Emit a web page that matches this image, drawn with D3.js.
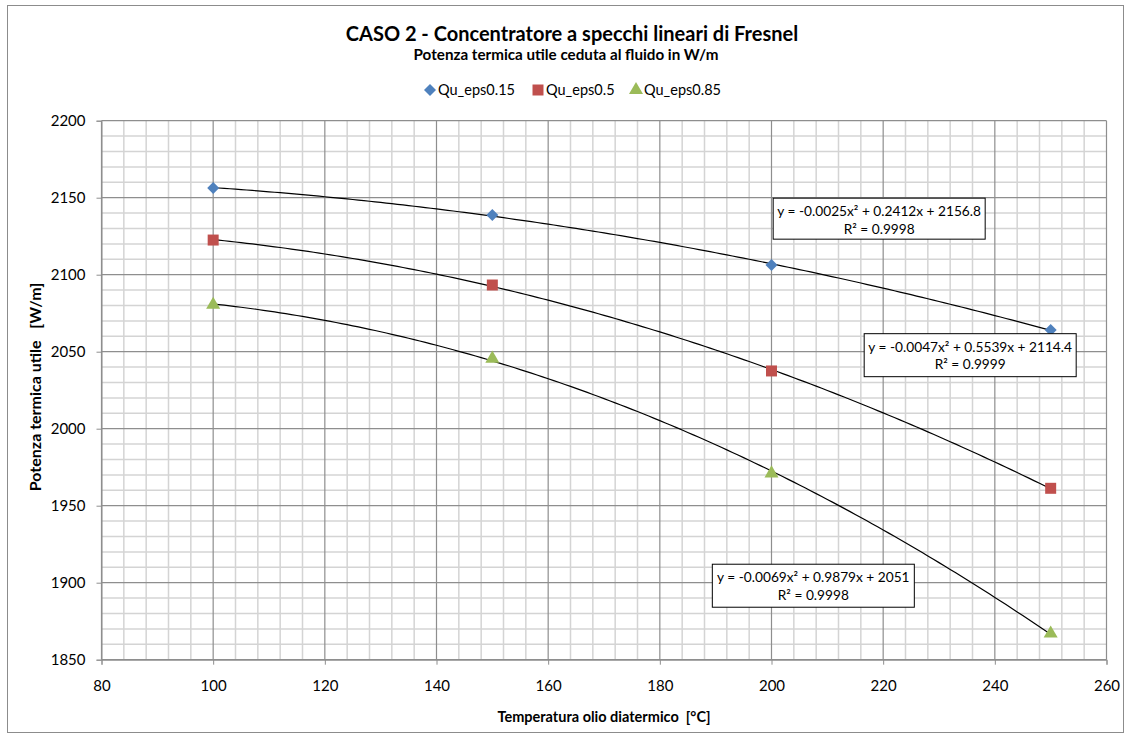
<!DOCTYPE html>
<html><head><meta charset="utf-8">
<script src="https://cdn.jsdelivr.net/npm/d3@7"></script>
<style>body{margin:0;background:#fff}svg{display:block;font-family:Lato,"Open Sans",sans-serif}text{white-space:pre}</style>
</head><body><svg id="c" width="1131" height="738"></svg>
<script>
const temps = [100, 150, 200, 250];
const quEps015 = [2156.3, 2138.8, 2106.3, 2064.1];
const quEps05 = [2122.5, 2093.3, 2037.5, 1961.3];
const quEps085 = [2080.5, 2045.5, 1971.0, 1867.0];
const seriesNames = ["Qu_eps0.15", "Qu_eps0.5", "Qu_eps0.85"];
const seriesColors = ["#4F81BD", "#C0504D", "#9BBB59"];
const seriesShapes = ["diamond", "square", "triangle"];
const eqTexts = [["y = -0.0025x² + 0.2412x + 2156.8", "R² = 0.9998"],
                 ["y = -0.0047x² + 0.5539x + 2114.4", "R² = 0.9999"],
                 ["y = -0.0069x² + 0.9879x + 2051", "R² = 0.9998"]];
const eqAnchors = [[200.3, 2149.7], [216.6, 2061.7], [189.4, 1912]]; // data-space top-left of label boxes
const xTicks = [80,100,120,140,160,180,200,220,240,260];
const yTicks = [1850,1900,1950,2000,2050,2100,2150,2200];

const svg = d3.select("#c");
const L = 101.5, R = 1106.5, T = 120.7, B = 659.7;
const x = d3.scaleLinear().domain([80,260]).range([L,R]);
const y = d3.scaleLinear().domain([1850,2200]).range([B,T]);

// outer border
svg.append("rect").attr("x",7.5).attr("y",5.5).attr("width",1116).attr("height",727)
  .attr("fill","#fff").attr("stroke","#8c8c8c").attr("stroke-width",1);

// grid
const g = svg.append("g");
d3.range(80,260.1,4).forEach(v=>{ if(v%20) g.append("line").attr("x1",x(v)).attr("x2",x(v)).attr("y1",T).attr("y2",B).attr("stroke","#d4d4d4").attr("stroke-width",1.5);});
d3.range(1850,2200.1,10).forEach(v=>{ if(v%50) g.append("line").attr("y1",y(v)).attr("y2",y(v)).attr("x1",L).attr("x2",R).attr("stroke","#d4d4d4").attr("stroke-width",1.5);});
xTicks.forEach(v=>g.append("line").attr("x1",x(v)).attr("x2",x(v)).attr("y1",T).attr("y2",B).attr("stroke","#8e8e8e").attr("stroke-width",1.2));
yTicks.forEach(v=>g.append("line").attr("y1",y(v)).attr("y2",y(v)).attr("x1",L).attr("x2",R).attr("stroke","#8e8e8e").attr("stroke-width",1.2));

// axes
const xa = svg.append("g").attr("transform",`translate(0,${B})`)
  .call(d3.axisBottom(x).tickValues(xTicks).tickFormat(d3.format("d")).tickSize(5).tickPadding(16));
const ya = svg.append("g").attr("transform",`translate(${L},0)`)
  .call(d3.axisLeft(y).tickValues(yTicks).tickFormat(d3.format("d")).tickSize(5).tickPadding(11));
[xa,ya].forEach(a=>{a.select(".domain").attr("stroke","#8e8e8e");a.selectAll(".tick line").attr("stroke","#8e8e8e");
  a.selectAll("text").attr("font-size",15).attr("fill","#000").attr("font-family","Lato,sans-serif");});

// quadratic least squares for trendlines
function quadFit(xs, ys){
  let S=[0,0,0,0,0],T2=[0,0,0];
  xs.forEach((xi,i)=>{for(let k=0;k<5;k++)S[k]+=Math.pow(xi,k);for(let k=0;k<3;k++)T2[k]+=ys[i]*Math.pow(xi,k);});
  const A=[[S[0],S[1],S[2],T2[0]],[S[1],S[2],S[3],T2[1]],[S[2],S[3],S[4],T2[2]]];
  for(let i=0;i<3;i++){for(let j=i+1;j<3;j++){const f=A[j][i]/A[i][i];for(let k=i;k<4;k++)A[j][k]-=f*A[i][k];}}
  const c=[0,0,0];for(let i=2;i>=0;i--){let s=A[i][3];for(let k=i+1;k<3;k++)s-=A[i][k]*c[k];c[i]=s/A[i][i];}
  return v=>c[0]+c[1]*v+c[2]*v*v;
}
const allSeries=[quEps015,quEps05,quEps085];
const line=d3.line().x(d=>x(d[0])).y(d=>y(d[1]));
allSeries.forEach((vals)=>{
  const f=quadFit(temps,vals);
  const pts=d3.range(100,250.01,1).map(v=>[v,f(v)]);
  svg.append("path").attr("d",line(pts)).attr("fill","none").attr("stroke","#000").attr("stroke-width",1.2);
});

function marker(sel, shape, color, cx, cy){
  const s = shape==="diamond"?d3.symbol().type(d3.symbolSquare).size(72)
          : shape==="square"?d3.symbol().type(d3.symbolSquare).size(121)
          : d3.symbol().type(d3.symbolTriangle).size(85);
  sel.append("path").attr("d",s()).attr("fill",color)
    .attr("transform",`translate(${cx},${cy})`+(shape==="diamond"?" rotate(45)":""));
}
allSeries.forEach((vals,si)=>{
  vals.forEach((v,i)=>marker(svg,seriesShapes[si],seriesColors[si],x(temps[i]),y(v)));
});

// equation boxes
const boxW=[212,212,202], boxH=[41,43,43];
allSeries.forEach((vals,si)=>{
  const bx=x(eqAnchors[si][0]), by=y(eqAnchors[si][1]);
  const w=boxW[si], h=boxH[si];
  svg.append("rect").attr("x",bx).attr("y",by).attr("width",w).attr("height",h).attr("fill","#fff").attr("stroke","#000").attr("stroke-width",1);
  svg.append("text").attr("x",bx+w/2).attr("y",by+18).attr("text-anchor","middle").attr("font-size",13.7).text(eqTexts[si][0]);
  svg.append("text").attr("x",bx+w/2).attr("y",by+35.5).attr("text-anchor","middle").attr("font-size",13.7).text(eqTexts[si][1]);
});

// titles
svg.append("text").attr("x",572).attr("y",41).attr("text-anchor","middle").attr("font-weight","bold").attr("font-size",20).text("CASO 2 - Concentratore a specchi lineari di Fresnel");
svg.append("text").attr("x",566).attr("y",60).attr("text-anchor","middle").attr("font-weight","bold").attr("font-size",15.2).text("Potenza termica utile ceduta al fluido in W/m");
svg.append("text").attr("x",604).attr("y",722).attr("text-anchor","middle").attr("font-weight","bold").attr("font-size",14.5).text("Temperatura olio diatermico  [°C]");
svg.append("text").attr("transform","translate(41,387) rotate(-90)").attr("text-anchor","middle").attr("font-weight","bold").attr("font-size",16).text("Potenza termica utile   [W/m]");

// legend
const legX=[430,538,636];
seriesNames.forEach((n,i)=>{
  marker(svg,seriesShapes[i],seriesColors[i],legX[i],90);
  svg.append("text").attr("x",legX[i]+8).attr("y",95).attr("font-size",14.5).text(n);
});
</script></body></html>
